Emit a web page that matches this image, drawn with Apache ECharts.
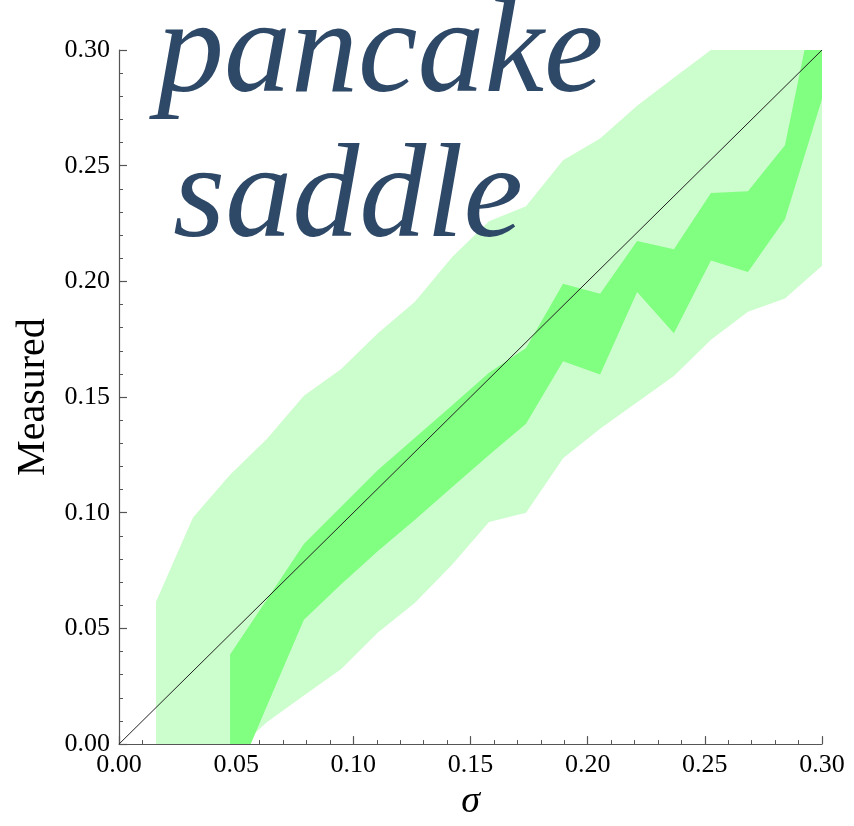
<!DOCTYPE html>
<html>
<head>
<meta charset="utf-8">
<script src="https://cdn.jsdelivr.net/npm/echarts@6/dist/echarts.min.js"></script>
<style>
html,body{margin:0;padding:0;background:#fff;}
#chart{width:854px;height:826px;}
</style>
</head>
<body>
<div id="chart"></div>
<script>
// sigma grid
const sigma = [0.0158, 0.0316, 0.0474, 0.0632, 0.0789, 0.0947, 0.1105, 0.1263, 0.1421, 0.1579,
               0.1737, 0.1895, 0.2053, 0.2211, 0.2368, 0.2526, 0.2684, 0.2842, 0.3000];
// outer (light) band
const outerLower = [0.000, 0.000, -0.005, 0.0096, 0.021, 0.0323, 0.0482, 0.0611, 0.0775, 0.096,
                    0.100, 0.1235, 0.1363, 0.1477, 0.1591, 0.1748, 0.1869, 0.1926, 0.2068];
const outerUpper = [0.0615, 0.0979, 0.1164, 0.132, 0.1506, 0.162, 0.1776, 0.1912, 0.2104, 0.226,
                    0.2325, 0.2524, 0.2617, 0.2759, 0.288, 0.300, 0.300, 0.300, 0.300];
// inner (dark) band
const innerLower = [null, null, -0.021, 0.0167, 0.0537, 0.069, 0.0835, 0.097, 0.111, 0.125,
                    0.1385, 0.1655, 0.1598, 0.1954, 0.1776, 0.209, 0.204, 0.2268, 0.2788];
const innerUpper = [null, null, 0.0387, 0.0626, 0.0865, 0.1025, 0.1185, 0.1324, 0.1463, 0.1605,
                    0.1712, 0.199, 0.1947, 0.2175, 0.2139, 0.2382, 0.2389, 0.2588, 0.337];
// reference diagonal
const diagonal = [[0, 0], [0.3, 0.3]];
const tickValues = ['0.00', '0.05', '0.10', '0.15', '0.20', '0.25', '0.30'];
const titleLines = ['pancake', 'saddle'];

function bandData(lo, hi) {
  const out = [];
  for (let i = 0; i < sigma.length; i++) {
    if (lo[i] == null || hi[i] == null) continue;
    out.push([sigma[i], lo[i], hi[i]]);
  }
  return out;
}

function bandSeries(lo, hi, color, z) {
  const data = bandData(lo, hi);
  return {
    type: 'custom',
    z: z,
    clip: true,
    silent: true,
    data: data,
    encode: { x: 0, y: [1, 2] },
    renderItem: function (params, api) {
      if (params.dataIndex !== 0) return null;
      const pts = [];
      for (let i = 0; i < data.length; i++) pts.push(api.coord([data[i][0], data[i][2]]));
      for (let i = data.length - 1; i >= 0; i--) pts.push(api.coord([data[i][0], data[i][1]]));
      const cs = params.coordSys;
      return {
        type: 'group',
        clipPath: { type: 'rect', shape: { x: cs.x, y: cs.y, width: cs.width, height: cs.height } },
        children: [{ type: 'polygon', shape: { points: pts }, style: { fill: color, stroke: null } }]
      };
    }
  };
}

const serif = 'Liberation Serif';
const axisCommon = {
  type: 'value', min: 0, max: 0.3, interval: 0.05,
  axisLine: { show: true, onZero: false, lineStyle: { color: '#555', width: 1.2 } },
  axisTick: { show: true, inside: true, length: 8, lineStyle: { color: '#555', width: 1.2 } },
  minorTick: { show: true, splitNumber: 5, length: 4, lineStyle: { color: '#555', width: 1 } },
  splitLine: { show: false },
  axisLabel: {
    color: '#000', fontFamily: serif, fontSize: 26,
    formatter: function (v) { return tickValues[Math.round(v / 0.05)]; }
  }
};

const titleStyle = { fill: '#2e4867', fontFamily: serif, fontStyle: 'italic', fontWeight: 'normal', fontSize: 134 };

const chart = echarts.init(document.getElementById('chart'), null, { renderer: 'canvas' });
chart.setOption({
  animation: false,
  backgroundColor: '#fff',
  grid: { left: 119, right: 32, top: 50, bottom: 74, containLabel: false },
  xAxis: Object.assign({}, axisCommon, {
    name: 'σ', nameLocation: 'middle', nameGap: 31,
    nameTextStyle: { color: '#000', fontFamily: serif, fontStyle: 'italic', fontSize: 38 },
    axisLabel: Object.assign({}, axisCommon.axisLabel, { margin: 8 })
  }),
  yAxis: Object.assign({}, axisCommon, {
    name: 'Measured', nameLocation: 'middle', nameGap: 63,
    nameTextStyle: { color: '#000', fontFamily: serif, fontSize: 40 },
    axisLabel: Object.assign({}, axisCommon.axisLabel, { margin: 9 })
  }),
  graphic: [
    { type: 'text', x: 157, y: -11, z: 100,
      style: Object.assign({ text: titleLines[0] }, titleStyle) },
    { type: 'text', x: 173, y: 134, z: 100,
      style: Object.assign({ text: titleLines[1] }, titleStyle) }
  ],
  series: [
    bandSeries(outerLower, outerUpper, '#ccfdcc', 1),
    bandSeries(innerLower, innerUpper, '#80ff80', 2),
    {
      type: 'line', z: 3, data: diagonal, symbol: 'none', silent: true,
      lineStyle: { color: '#222', width: 1 }
    }
  ]
});
</script>
</body>
</html>
